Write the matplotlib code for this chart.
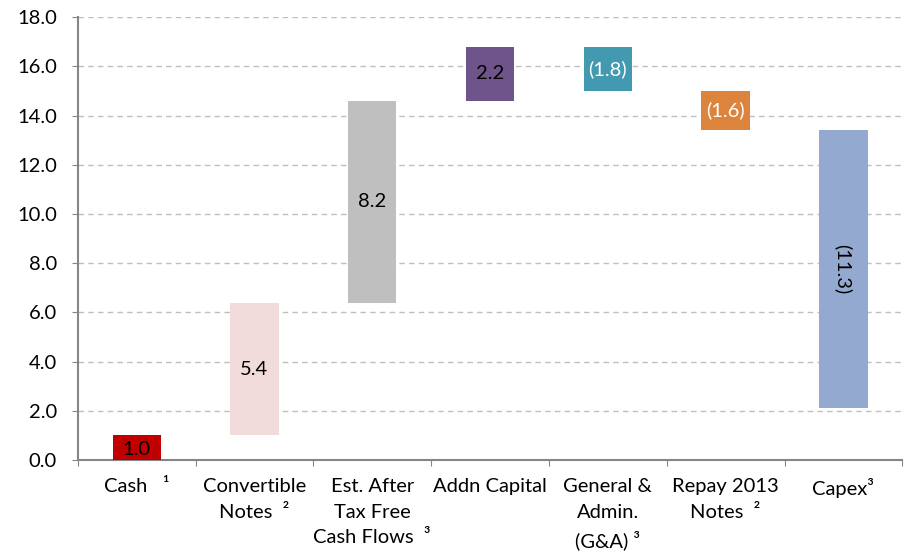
import numpy as np
import matplotlib.pyplot as plt

# waterfall data
categories = ["Cash   \u00b9", "Convertible\nNotes  \u00b2", "Est. After\nTax Free\nCash Flows  \u00b3",
              "Addn Capital", "General &\nAdmin.\n(G&A) \u00b3", "Repay 2013\nNotes  \u00b2", "Capex\u00b3"]
values = [1.0, 5.4, 8.2, 2.2, -1.8, -1.6, -11.3]
labels = ["1.0", "5.4", "8.2", "2.2", "(1.8)", "(1.6)", "(11.3)"]
colors = ["#C00000", "#F2DCDB", "#BFBFBF", "#6F548C", "#4399B0", "#DD843C", "#94A9CF"]
text_colors = ["black", "black", "black", "black", "white", "white", "black"]
y_ticks = np.arange(0, 18.1, 2.0)

plt.rcParams['font.family'] = ['Lato', 'DejaVu Sans']

fig = plt.figure(figsize=(9.05, 5.53), dpi=100)
ax = fig.add_axes([0.086, 0.168, 0.911, 0.801])

x = np.arange(len(categories))
ends = np.cumsum(values)
starts = ends - np.array(values)
bottoms = np.minimum(starts, ends)
heights = np.abs(values)

ax.bar(x, heights, bottom=bottoms, width=0.41, color=colors, zorder=3)

for i in range(len(x)):
    rot = -90 if abs(values[i]) > 10 else 0
    yy = bottoms[i] + heights[i] / 2
    if i == 0:
        yy = bottoms[i] + heights[i] / 2 - 0.05
    ax.text(x[i], yy, labels[i], ha='center', va='center', fontsize=14.5,
            color=text_colors[i], rotation=rot, zorder=4)

ax.set_xlim(-0.5, len(categories) - 0.5)
ax.set_ylim(0, 18)
ax.set_yticks(y_ticks)
ax.set_yticklabels(["%.1f" % v for v in y_ticks], fontsize=14.5)
ax.yaxis.grid(True, linestyle=(0, (4, 3)), color="#BFBFBF", linewidth=1.0, zorder=0)

# category labels centered, ticks on boundaries
ax.set_xticks(np.arange(len(categories) + 1) - 0.5)
ax.set_xticklabels([])
ax.set_xticks(x, minor=True)
ax.set_xticklabels(categories, minor=True, fontsize=14.5, linespacing=1.6, va='top')
ax.tick_params(axis='x', which='minor', length=0, pad=13)
ax.tick_params(axis='x', which='major', length=4, color="#868686", direction='out')
ax.tick_params(axis='y', length=4, color="#868686", direction='out', pad=11)

for s in ['top', 'right']:
    ax.spines[s].set_visible(False)
for s in ['left', 'bottom']:
    ax.spines[s].set_color("#868686")
    ax.spines[s].set_linewidth(1.5)

fig.savefig("out.png", dpi=100)
